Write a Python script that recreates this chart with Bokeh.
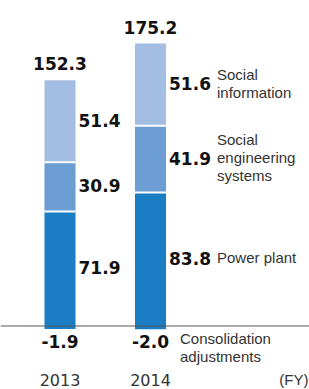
import numpy as np
from bokeh.plotting import figure
from bokeh.models import Range1d, Span, Label
from bokeh.core.properties import value
from bokeh.embed import file_html
from bokeh.resources import INLINE

# ---- data ----
years = ["2013", "2014"]
power_plant = [71.9, 83.8]
social_engineering = [30.9, 41.9]
social_information = [51.4, 51.6]
consolidation = [-1.9, -2.0]
totals = [152.3, 175.2]
segment_names = ["Power plant", "Social\nengineering\nsystems", "Social\ninformation"]
adjust_name = "Consolidation\nadjustments"
unit_label = "(FY)"

# ---- styles ----
C_PP = "#1b7ec5"
C_SE = "#6c9dd3"
C_SI = "#a4bde3"
NUM_FONT = value("DejaVu Sans")
TXT_FONT = value("Liberation Sans")
W = 0.343

idx = np.arange(len(years))
pp = np.array(power_plant)
se = np.array(social_engineering)
si = np.array(social_information)
b1 = pp
b2 = pp + se
tops = b2 + si

p = figure(width=309, height=389, x_range=Range1d(-0.6575, 2.7569),
           y_range=Range1d(-39.86, 204.33), output_backend="svg",
           toolbar_location=None, min_border=0)
p.axis.visible = False
p.grid.visible = False
p.outline_line_color = None
p.background_fill_color = "white"

p.vbar(x=idx, bottom=0, top=pp, width=W, fill_color=C_PP, line_color=None)
p.vbar(x=idx, bottom=b1, top=b2, width=W, fill_color=C_SE, line_color=None)
p.vbar(x=idx, bottom=b2, top=tops, width=W, fill_color=C_SI, line_color=None)
p.vbar(x=idx, bottom=np.array(consolidation), top=0, width=W, fill_color=C_PP, line_color=None)

# white separators between segments
for b in (b1, b2):
    p.segment(x0=idx - W / 2, x1=idx + W / 2, y0=b, y1=b, line_color="white", line_width=2)

p.add_layout(Span(location=0, dimension="width", line_color="#555555", line_width=1))

bold = dict(text_font=NUM_FONT, text_font_style="bold", text_font_size="17px", text_color="#111111")
light = dict(text_font=TXT_FONT, text_font_size="15px", text_color="#333333")

# segment values
for mids, vals in ((pp / 2, pp), (b1 + se / 2, se), (b2 + si / 2, si)):
    p.text(x=idx + W / 2, y=mids, text=[f"{v:.1f}" for v in vals], x_offset=3, y_offset=-1,
           text_align="left", text_baseline="middle", **bold)

# totals
p.text(x=idx, y=tops, text=[f"{v:.1f}" for v in totals], y_offset=-16.5,
       text_align="center", text_baseline="middle", **bold)

# consolidation values
p.text(x=idx, y=[0] * len(idx), text=[f"{v:.1f}" for v in consolidation], y_offset=15,
       text_align="center", text_baseline="middle", **bold)

# category labels next to last bar
last = idx[-1]
p.text(x=[last + W / 2] * 3, y=[pp[-1] / 2, b1[-1] + se[-1] / 2, b2[-1] + si[-1] / 2],
       text=segment_names, x_offset=51, y_offset=-1.5, text_align="left", text_baseline="middle",
       text_line_height=1.05, **light)
p.text(x=[last + W / 2], y=[0], text=[adjust_name], x_offset=14, y_offset=4,
       text_align="left", text_baseline="top", text_line_height=1.05, **light)

# year labels
p.text(x=idx, y=[0] * len(idx), text=years, y_offset=53.5, text_align="center",
       text_baseline="middle", text_font=NUM_FONT, text_font_size="16px", text_color="#333333")
p.add_layout(Label(x=308, y=10, x_units="screen", y_units="screen", text=unit_label,
                   text_align="right", text_baseline="middle", text_font="Liberation Sans",
                   text_font_size="15px", text_color="#333333"))

open("out.html", "w").write(file_html(p, INLINE))
